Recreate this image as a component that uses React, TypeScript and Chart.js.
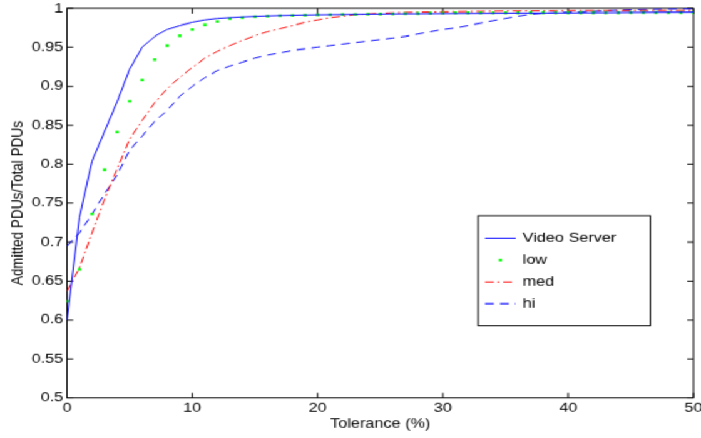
import React, { useEffect, useRef } from 'react';
import { Chart, registerables } from 'chart.js';

Chart.register(...registerables);

// ---- data ----
const tolerance = [0, 1, 2, 3, 4, 5, 6, 7, 8, 9, 10, 11, 12, 13, 14, 15, 16, 17, 18, 19, 20, 21, 22, 23, 24, 25, 26, 27, 28, 29, 30, 31, 32, 33, 34, 35, 36, 37, 38, 39, 40, 41, 42, 43, 44, 45, 46, 47, 48, 49, 50];

const videoServer = [0.600, 0.732, 0.804, 0.842, 0.880, 0.922, 0.950, 0.964, 0.973, 0.978, 0.982, 0.985, 0.987, 0.988, 0.989, 0.9897, 0.9903, 0.9908, 0.9912, 0.9915, 0.9918, 0.992, 0.9922, 0.9924, 0.9926, 0.9928, 0.993, 0.9931, 0.9932, 0.9933, 0.9934, 0.9935, 0.9936, 0.9937, 0.9938, 0.9939, 0.994, 0.9941, 0.9941, 0.9942, 0.9942, 0.9943, 0.9944, 0.9945, 0.9946, 0.9947, 0.9948, 0.9949, 0.995, 0.995, 0.9951];

const low = [0.624, 0.665, 0.736, 0.793, 0.841, 0.881, 0.908, 0.934, 0.952, 0.965, 0.973, 0.979, 0.983, 0.9865, 0.988, 0.9893, 0.990, 0.9905, 0.991, 0.9914, 0.9918, 0.992, 0.9922, 0.9924, 0.9926, 0.9928, 0.993, 0.9932, 0.9935, 0.9938, 0.9941, 0.9942, 0.9943, 0.9943, 0.9944, 0.9944, 0.9944, 0.9945, 0.9945, 0.9945, 0.9945, 0.9945, 0.9945, 0.9945, 0.9945, 0.9946, 0.9946, 0.9946, 0.9946, 0.9946, 0.9946];

const med = [0.637, 0.667, 0.712, 0.755, 0.794, 0.832, 0.856, 0.879, 0.897, 0.9115, 0.924, 0.936, 0.945, 0.952, 0.959, 0.965, 0.970, 0.974, 0.978, 0.982, 0.985, 0.988, 0.990, 0.992, 0.993, 0.9938, 0.9943, 0.9947, 0.995, 0.9953, 0.9955, 0.9957, 0.9959, 0.996, 0.9962, 0.9964, 0.9965, 0.9966, 0.9967, 0.9968, 0.9969, 0.997, 0.997, 0.997, 0.997, 0.997, 0.9971, 0.9971, 0.9971, 0.9971, 0.9972];

const hi = [0.695, 0.712, 0.736, 0.762, 0.786, 0.818, 0.836, 0.855, 0.869, 0.887, 0.900, 0.911, 0.920, 0.926, 0.931, 0.936, 0.940, 0.943, 0.946, 0.948, 0.950, 0.952, 0.954, 0.956, 0.958, 0.960, 0.962, 0.964, 0.967, 0.970, 0.973, 0.975, 0.978, 0.981, 0.984, 0.987, 0.990, 0.9925, 0.9938, 0.9945, 0.995, 0.9955, 0.996, 0.9967, 0.9975, 0.998, 0.9983, 0.9986, 0.9988, 0.999, 0.999];

const seriesNames = ['Video Server', 'low', 'med', 'hi'];
const xTickValues = [0, 10, 20, 30, 40, 50];
const yTickValues = [0.5, 0.55, 0.6, 0.65, 0.7, 0.75, 0.8, 0.85, 0.9, 0.95, 1];
const xTitle = 'Tolerance (%)';
const yTitle = 'Admitted PDUs/Total PDUs';

// ---- layout (original figure frame, stretched to the window) ----
const FRAME_W = 560;
const FRAME_H = 420;
const SX = 701 / FRAME_W;
const SY = 438 / FRAME_H;
const FONT = "'Liberation Sans', Arial, Helvetica, sans-serif";
const FONT_SIZE = 13;

const toPoints = (ys: number[]) => ys.map((v, i) => ({ x: tolerance[i], y: v }));

const boxPlugin = {
  id: 'matlabBox',
  beforeDatasetsDraw(chart: any) {
    const { ctx, chartArea } = chart;
    const { left, right, top, bottom } = chartArea;
    const xs = chart.scales.x;
    const ys = chart.scales.y;
    const tl = 5;
    ctx.save();
    ctx.strokeStyle = '#000';
    ctx.lineWidth = 1;
    ctx.setLineDash([]);
    ctx.strokeRect(left, top, right - left, bottom - top);
    ctx.beginPath();
    xs.ticks.forEach((t: any) => {
      const px = xs.getPixelForValue(t.value);
      ctx.moveTo(px, bottom);
      ctx.lineTo(px, bottom - tl);
      ctx.moveTo(px, top);
      ctx.lineTo(px, top + tl);
    });
    ys.ticks.forEach((t: any) => {
      const py = ys.getPixelForValue(t.value);
      ctx.moveTo(left, py);
      ctx.lineTo(left + tl, py);
      ctx.moveTo(right, py);
      ctx.lineTo(right - tl, py);
    });
    ctx.stroke();
    ctx.restore();
  },
};

const legendPlugin = {
  id: 'matlabLegend',
  afterDraw(chart: any) {
    const { ctx } = chart;
    const bx0 = 382;
    const bx1 = 519.5;
    const by0 = 207;
    const by1 = 312.5;
    const rowY0 = 228.5;
    const rowStep = 20.9;
    const sx0 = 387.5;
    const sx1 = 412;
    const tx = 417.5;
    ctx.save();
    ctx.fillStyle = '#fff';
    ctx.fillRect(bx0, by0, bx1 - bx0, by1 - by0);
    ctx.strokeStyle = '#000';
    ctx.lineWidth = 1;
    ctx.setLineDash([]);
    ctx.strokeRect(bx0, by0, bx1 - bx0, by1 - by0);
    chart.data.datasets.forEach((ds: any, i: number) => {
      const y = rowY0 + i * rowStep;
      if (ds.showLine === false) {
        ctx.fillStyle = ds.pointBackgroundColor;
        const s = ds.pointRadius * Math.SQRT2;
        const cx = (sx0 + sx1) / 2;
        ctx.fillRect(cx - s / 2, y - s / 2, s, s);
      } else {
        ctx.strokeStyle = ds.borderColor;
        ctx.lineWidth = ds.borderWidth;
        ctx.setLineDash(ds.borderDash || []);
        ctx.beginPath();
        ctx.moveTo(sx0, y);
        ctx.lineTo(sx1, y);
        ctx.stroke();
      }
      ctx.setLineDash([]);
      ctx.fillStyle = '#000';
      ctx.font = `${FONT_SIZE}px ${FONT}`;
      ctx.textAlign = 'left';
      ctx.textBaseline = 'middle';
      ctx.fillText(ds.label, tx, y);
    });
    ctx.restore();
  },
};

export default function App() {
  const canvasRef = useRef<HTMLCanvasElement>(null);

  useEffect(() => {
    document.body.style.overflow = 'hidden';
    const canvas = canvasRef.current;
    if (!canvas) return;
    const tickFont = { family: FONT, size: FONT_SIZE };
    const chart = new Chart(canvas, {
      type: 'line',
      data: {
        datasets: [
          {
            label: seriesNames[0],
            data: toPoints(videoServer),
            borderColor: '#0000ff',
            borderWidth: 1,
            pointRadius: 0,
            tension: 0,
          },
          {
            label: seriesNames[1],
            data: toPoints(low),
            showLine: false,
            pointStyle: 'rect',
            pointRadius: 1.8,
            pointBackgroundColor: '#00ff00',
            pointBorderWidth: 0,
            borderColor: '#00ff00',
          },
          {
            label: seriesNames[2],
            data: toPoints(med),
            borderColor: '#ff0000',
            borderWidth: 1,
            borderDash: [7, 3, 1.5, 3],
            pointRadius: 0,
            tension: 0,
          },
          {
            label: seriesNames[3],
            data: toPoints(hi),
            borderColor: '#0000ff',
            borderWidth: 1,
            borderDash: [7, 5],
            pointRadius: 0,
            tension: 0,
          },
        ],
      } as any,
      options: {
        animation: false,
        responsive: true,
        maintainAspectRatio: false,
        layout: { padding: { left: 2.6, top: 8, right: 6, bottom: 1.6 } },
        plugins: {
          legend: { display: false },
          tooltip: { enabled: false },
        },
        events: [],
        scales: {
          x: {
            type: 'linear',
            min: 0,
            max: 50,
            afterBuildTicks: (scale: any) => {
              scale.ticks = xTickValues.map((v) => ({ value: v }));
            },
            afterFit: (scale: any) => {
              scale.height = 36.8;
              scale.paddingLeft = 0;
              scale.paddingRight = 0;
            },
            grid: { display: false, drawTicks: false },
            border: { display: false },
            ticks: {
              font: tickFont,
              color: '#000',
              padding: 2.5,
              maxRotation: 0,
              autoSkip: false,
              callback: (v: any) => String(v),
            },
            title: {
              display: true,
              text: xTitle,
              font: tickFont,
              color: '#000',
              padding: { top: 4, bottom: 4 },
            },
          },
          y: {
            type: 'linear',
            min: 0.5,
            max: 1,
            afterBuildTicks: (scale: any) => {
              scale.ticks = yTickValues.map((v) => ({ value: v }));
            },
            afterFit: (scale: any) => {
              scale.width = 50.9;
              scale.paddingTop = 0;
              scale.paddingBottom = 0;
            },
            grid: { display: false, drawTicks: false },
            border: { display: false },
            ticks: {
              font: tickFont,
              color: '#000',
              padding: 3,
              autoSkip: false,
              callback: (v: any) => String(Number(Number(v).toFixed(2))),
            },
            title: {
              display: true,
              text: yTitle,
              font: tickFont,
              color: '#000',
              padding: { top: 4, bottom: 4 },
            },
          },
        },
      } as any,
      plugins: [boxPlugin, legendPlugin],
    });
    return () => chart.destroy();
  }, []);

  return (
    <div
      style={{
        position: 'fixed',
        left: 0,
        top: 0,
        width: FRAME_W,
        height: FRAME_H,
        transform: `scale(${SX}, ${SY})`,
        transformOrigin: '0 0',
        background: '#fff',
      }}
    >
      <canvas ref={canvasRef} />
    </div>
  );
}
